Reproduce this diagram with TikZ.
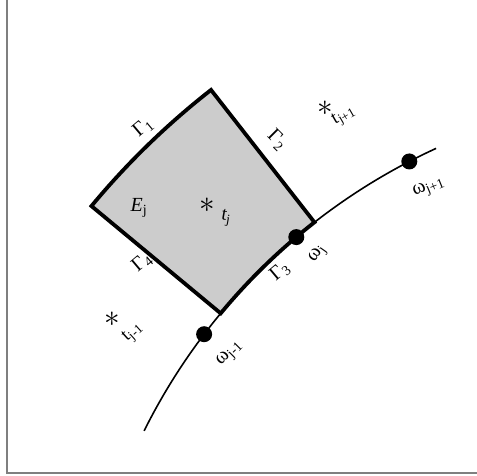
\documentclass[tikz,border=0pt]{standalone}
\usepackage{fontspec}
\setmainfont{Liberation Serif}
\usepackage{tikz}
\definecolor{cellgray}{HTML}{CCCCCC}
\definecolor{framegray}{HTML}{7F7F7F}
\newcommand{\lsub}[1]{\textsubscript{#1}}

\begin{document}
\begin{tikzpicture}[x=1pt, y=1pt, every node/.style={font=\fontsize{20}{23}\selectfont, inner sep=0pt}, cell/.style={draw, line width=3.8pt, fill=cellgray, line join=miter}, bdry/.style={line width=1.6pt}, pt/.style={circle, fill, minimum size=16pt}, star/.style={scale=1.5}, tlbl/.style={font=\fontsize{19}{22}\selectfont}]
\useasboundingbox (0,0) rectangle (477,476);
\draw[framegray, line width=1.8pt] (7,476)--(7,3)--(477,3);
% polar cell round the centre of the boundary arc
\begin{scope}[shift={(690,-227)}]
\coordinate (bstart) at (153.5:610);
\coordinate (cellR) at (128:610);
\draw[cell] (cellR)--(128:778) arc[start angle=128, end angle=140.3, radius=778]--(140.3:610) arc[start angle=140.3, end angle=128, radius=610]--cycle;
\draw[bdry] (bstart) arc[start angle=153.5, end angle=114.6, radius=610];
\node[pt] (wjm) at (142.8:610) {};
\node[pt] (wj) at (130.2:610) {};
\node[pt] (wjp) at (117.4:610) {};
\end{scope}
\node[rotate=40] (g1) at (143,348) {Γ\lsub{1}};
\node[rotate=-45] (g2) at (277,336) {Γ\lsub{2}};
\node[rotate=40] (g3) at (280,204) {Γ\lsub{3}};
\node[rotate=40] (g4) at (142,213) {Γ\lsub{4}};
\node (ej) at (139,268) {\textit{E}\lsub{j}};
\node[rotate=55] (lwj) at (318,222) {ω\lsub{j}};
\node[rotate=45] (lwjm) at (230,122) {ω\lsub{j-1}};
\node[rotate=22] (lwjp) at (429,288) {ω\lsub{j+1}};
\node[star] (sj) at (207,271) {$\ast$};
\node[tlbl, rotate=-10] (tj) at (226,258) {t\lsub{j}};
\node[star] (sjp) at (325,368) {$\ast$};
\node[tlbl, rotate=30] (tjp) at (344,360) {t\lsub{j+1}};
\node[star] (sjm) at (112,157) {$\ast$};
\node[tlbl, rotate=42] (tjm) at (133,143) {t\lsub{j-1}};
\end{tikzpicture}
\end{document}
